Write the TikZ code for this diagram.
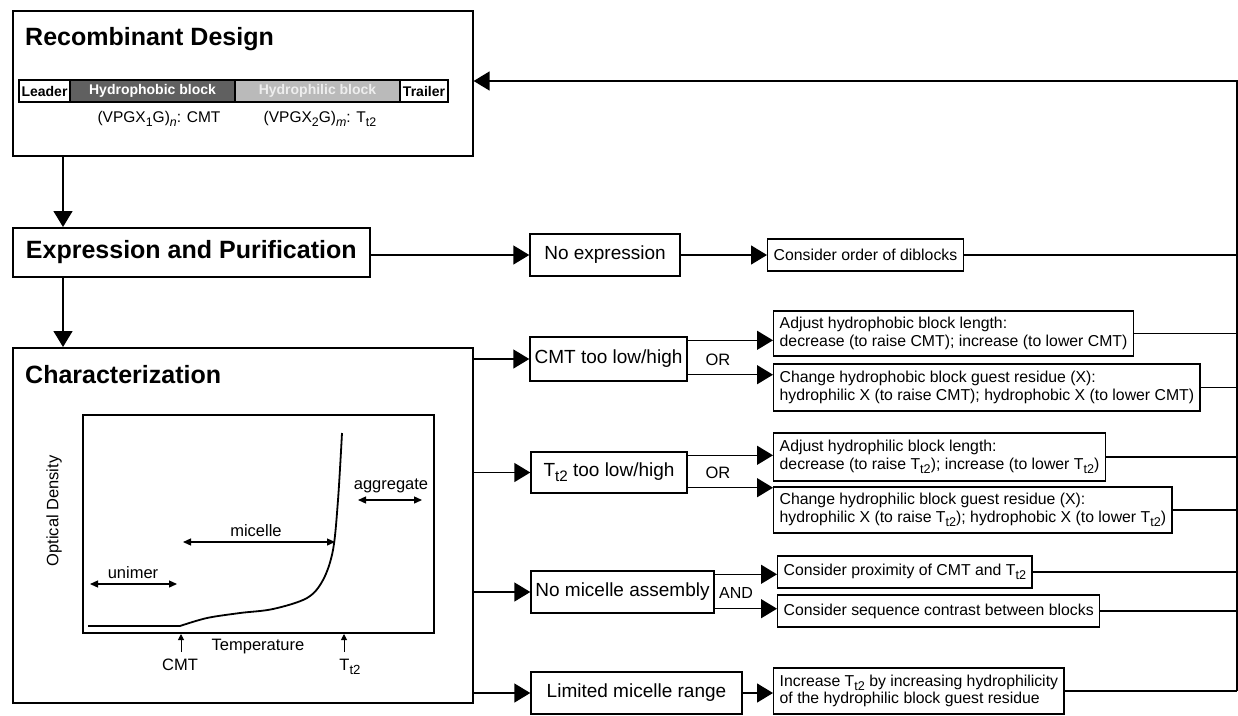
\documentclass[tikz,border=0pt]{standalone}
\usepackage{fontspec}
\setmainfont{Liberation Sans}
\usetikzlibrary{arrows.meta,positioning}
\definecolor{phobic}{RGB}{96,96,96}
\definecolor{philic}{RGB}{186,186,186}
\definecolor{philictext}{RGB}{238,238,238}
\newcommand{\dn}[1]{\raisebox{-0.28em}{\fontsize{\the\dimexpr0.8\fontdimen6\font\relax}{0pt}\selectfont #1}}
\tikzset{
  panel/.style={draw, line width=1.6pt, inner sep=0pt, anchor=north west},
  heading/.style={font=\fontsize{25}{30}\selectfont\bfseries, inner sep=0pt},
  segment/.style={draw, line width=1.2pt, outer sep=0pt, inner sep=0pt, minimum height=22pt, font=\fontsize{14}{16}\selectfont\bfseries},
  issue/.style={draw, line width=1.4pt, font=\fontsize{19}{22}\selectfont, inner sep=0pt},
  fix/.style={draw, line width=1.4pt, font=\fontsize{15.8}{17.5}\selectfont, align=left, anchor=west, inner xsep=6pt, inner ysep=0pt},
  flow/.style={line width=1.4pt, -{Triangle[length=16pt,width=19pt]}},
  back/.style={line width=1.4pt},
  span/.style={line width=1.3pt, {Triangle[length=8pt,width=7pt]}-{Triangle[length=8pt,width=7pt]}},
  pointer/.style={line width=1pt, -{Triangle[length=6pt,width=6pt]}},
  plotlabel/.style={font=\fontsize{16.5}{19}\selectfont, inner sep=0pt},
  gate/.style={font=\fontsize{16.5}{19}\selectfont, inner sep=0pt}
}
\begin{document}
\begin{tikzpicture}[x=1pt,y=-1pt]
\useasboundingbox (0,0) rectangle (1238,715);

% design panel
\node[panel, minimum width=460pt, minimum height=145pt] (rd) at (12,10) {};
\node[heading, anchor=base west] (rdtitle) at (25,45) {Recombinant Design};
\node[segment, anchor=west, minimum width=51pt] (leader) at (19,91) {Leader};
\node[segment, right=0pt of leader, minimum width=165pt, fill=phobic, text=white] (phobic) {Hydrophobic block};
\node[segment, right=0pt of phobic, minimum width=165pt, fill=philic, text=philictext] (philic) {Hydrophilic block};
\node[segment, right=0pt of philic, minimum width=48pt] (trailer) {Trailer};
\node[plotlabel, anchor=base, font=\fontsize{15.5}{18}\selectfont] (seqA) at (159,122) {(VPGX\dn{1}G)\dn{\textit{n}}: CMT};
\node[plotlabel, anchor=base, font=\fontsize{15.5}{18}\selectfont] (seqB) at (320,122) {(VPGX\dn{2}G)\dn{\textit{m}}: T\dn{t2}};

% expression panel
\node[panel, minimum width=357pt, minimum height=49pt, font=\fontsize{25}{30}\selectfont\bfseries] (ep) at (12,227) {Expression and Purification};

% characterization panel
\node[panel, minimum width=460pt, minimum height=355pt] (ch) at (12,347) {};
\node[heading, anchor=base west] (chtitle) at (25,383) {Characterization};

% turbidity plot
\node[panel, minimum width=351pt, minimum height=218pt] (od) at (82,414) {};
\draw[line width=1.8pt] (88,626) -- (180,626) -- plot[smooth, tension=0.55] coordinates {(180,626) (207,618) (240,613) (273,609) (307,598) (323,580) (333,550) (338,500) (342,433)};
\draw[span] (90,584) -- (177,584);
\draw[span] (183,542) -- (335,542);
\draw[span] (358,500) -- (422,500);
\node[plotlabel, anchor=base] (unimer) at (133,578) {unimer};
\node[plotlabel, anchor=base] (micelle) at (256,536) {micelle};
\node[plotlabel, anchor=base] (aggr) at (391,489) {aggregate};
\node[plotlabel, anchor=base] (temp) at (258,650) {Temperature};
\node[plotlabel, rotate=90] (ylab) at (54,511) {Optical Density};
\draw[pointer] (181,652) -- (181,634);
\draw[pointer] (344,652) -- (344,634);
\node[plotlabel, anchor=base] (cmtlab) at (180,670) {CMT};
\node[plotlabel, anchor=base] (ttlab) at (350,670) {T\dn{t2}};

% problems
\node[issue, minimum width=150pt, minimum height=42pt] (noexp) at (605,255) {No expression};
\node[issue, minimum width=157pt, minimum height=44pt] (cmt) at (608.5,359) {CMT too low/high};
\node[issue, minimum width=156pt, minimum height=41pt] (tt) at (609,472.5) {T\dn{t2} too low/high};
\node[issue, minimum width=183pt, minimum height=42pt] (nomic) at (622.5,592) {No micelle assembly};
\node[issue, minimum width=211pt, minimum height=42pt] (limit) at (636.5,693) {Limited micelle range};

\node[gate] (orA) at (718,360) {OR};
\node[gate] (orB) at (718,473) {OR};
\node[gate, font=\fontsize{16}{19}\selectfont] (and) at (736,593) {AND};

% remedies
\node[fix, minimum height=32pt] (order) at (767,255) {Consider order of diblocks};
\node[fix, minimum height=45pt] (adjA) at (773,333.5) {Adjust hydrophobic block length:\\decrease (to raise CMT); increase (to lower CMT)};
\node[fix, minimum height=47pt] (chgA) at (773,387.5) {Change hydrophobic block guest residue (X):\\hydrophilic X (to raise CMT); hydrophobic X (to lower CMT)};
\node[fix, minimum height=48pt] (adjB) at (773,457) {Adjust hydrophilic block length:\\decrease (to raise T\dn{t2}); increase (to lower T\dn{t2})};
\node[fix, minimum height=46pt] (chgB) at (773,510) {Change hydrophilic block guest residue (X):\\hydrophilic X (to raise T\dn{t2}); hydrophobic X (to lower T\dn{t2})};
\node[fix, minimum height=32pt] (prox) at (777,572) {Consider proximity of CMT and T\dn{t2}};
\node[fix, minimum height=32pt] (seq) at (777,611) {Consider sequence contrast between blocks};
\node[fix, minimum height=46pt] (incr) at (773,691) {Increase T\dn{t2} by increasing hydrophilicity\\of the hydrophilic block guest residue};

% main flow
\draw[flow] ([xshift=51pt]rd.south west) -- ([xshift=51pt]ep.north west);
\draw[flow] ([xshift=51pt]ep.south west) -- ([xshift=51pt]ch.north west);
\draw[flow] (ep.east |- noexp) -- (noexp.west);
\draw[flow] (noexp.east) -- (order.west);
\foreach \n in {cmt,tt,nomic,limit}
  \draw[flow] (ch.east |- \n) -- (\n.west);
\draw[flow] (limit.east) -- (limit.east -| incr.west);

% branches
\coordinate (cmtA) at ([yshift=-4pt]cmt.north east);
\coordinate (cmtB) at ([yshift=7pt]cmt.south east);
\coordinate (ttA) at ([yshift=-4pt]tt.north east);
\coordinate (ttB) at ([yshift=6pt]tt.south east);
\coordinate (micA) at ([yshift=-4pt]nomic.north east);
\coordinate (micB) at ([yshift=5pt]nomic.south east);
\draw[flow] (cmtA) -- (cmtA -| adjA.west);
\draw[flow] (cmtB) -- (cmtB -| chgA.west);
\draw[flow] (ttA) -- (ttA -| adjB.west);
\draw[flow] (ttB) -- (ttB -| chgB.west);
\draw[flow] (micA) -- (micA -| prox.west);
\draw[flow] (micB) -- (micB -| seq.west);

% feedback to design
\coordinate (railtop) at (1237,81);
\coordinate (railbot) at (1237,691);
\foreach \n in {order,adjA,chgA,adjB,chgB,prox,seq,incr}
  \draw[back] (\n.east) -- (\n.east -| railtop);
\draw[flow] (railbot) -- (railtop) -- (railtop -| rd.east);
\end{tikzpicture}
\end{document}
